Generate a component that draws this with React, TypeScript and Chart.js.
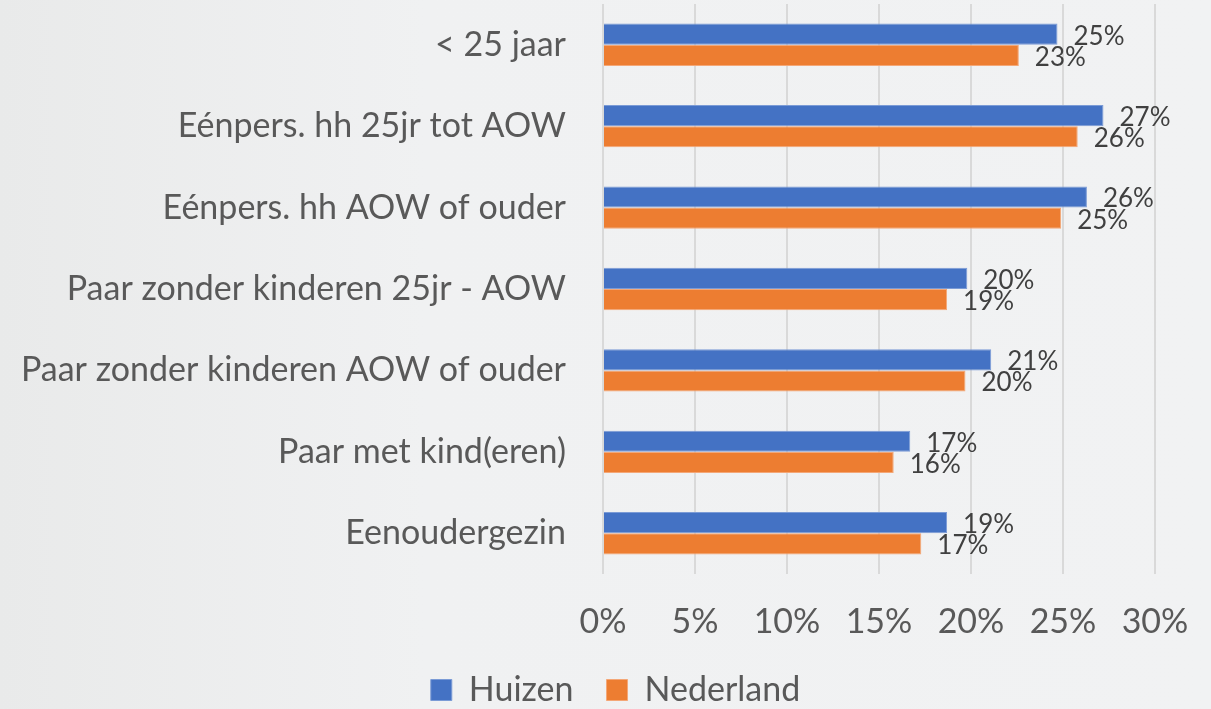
import React, { useEffect, useRef } from "react";
import { Chart, registerables } from "chart.js";

Chart.register(...registerables);

const categories = [
  "< 25 jaar",
  "Eénpers. hh 25jr tot AOW",
  "Eénpers. hh AOW of ouder",
  "Paar zonder kinderen 25jr - AOW",
  "Paar zonder kinderen AOW of ouder",
  "Paar met kind(eren)",
  "Eenoudergezin",
];
const huizen = [24.7, 27.2, 26.3, 19.8, 21.1, 16.7, 18.7];
const nederland = [22.6, 25.8, 24.9, 18.7, 19.7, 15.8, 17.3];
const xTicks = [0, 5, 10, 15, 20, 25, 30];

const FONT = "Lato, 'Open Sans', sans-serif";

const labelPlugin = {
  id: "barLabels",
  afterDatasetsDraw(chart: any) {
    const ctx = chart.ctx;
    ctx.save();
    ctx.font = `26px ${FONT}`;
    ctx.fillStyle = "#404040";
    ctx.textAlign = "left";
    ctx.textBaseline = "middle";
    chart.data.datasets.forEach((ds: any, di: number) => {
      const meta = chart.getDatasetMeta(di);
      meta.data.forEach((el: any, i: number) => {
        const v = ds.data[i];
        ctx.fillText(Math.round(v) + "%", el.x + 16, el.y + 2);
      });
    });
    ctx.restore();
  },
};

export default function App() {
  const ref = useRef<HTMLCanvasElement>(null);
  useEffect(() => {
    document.body.style.margin = "0";
    const chart = new Chart(ref.current!, {
      type: "bar",
      data: {
        labels: categories,
        datasets: [
          {
            label: "Huizen",
            data: huizen,
            backgroundColor: "#4472c4",
            borderColor: "#7b9bd6",
            borderWidth: 1,
            categoryPercentage: 0.52,
            barPercentage: 1,
          },
          {
            label: "Nederland",
            data: nederland,
            backgroundColor: "#ed7d31",
            borderColor: "#f4a777",
            borderWidth: 1,
            categoryPercentage: 0.52,
            barPercentage: 1,
          },
        ],
      },
      options: {
        indexAxis: "y",
        animation: false,
        responsive: false,
        maintainAspectRatio: false,
        layout: { padding: { top: 4, right: 0, left: 20, bottom: -8 } },
        scales: {
          x: {
            min: 0,
            max: 30,
            afterBuildTicks: (s: any) => {
              s.ticks = xTicks.map((v) => ({ value: v }));
            },
            afterFit: (s: any) => {
              s.height = 66;
              s.paddingLeft = 0;
              s.paddingRight = 56;
            },
            grid: { color: "#d9d9d9", lineWidth: 2, drawTicks: false },
            border: { display: false },
            ticks: {
              padding: 28,
              color: "#595959",
              font: { family: FONT, size: 34 },
              callback: (v: any) => v + "%",
            },
          },
          y: {
            afterFit: (s: any) => {
              s.width = 583;
              s.paddingTop = 0;
              s.paddingBottom = 0;
            },
            grid: { display: false, drawTicks: false },
            border: { display: false },
            ticks: {
              padding: 37,
              color: "#595959",
              font: { family: FONT, size: 34 },
            },
          },
        },
        plugins: {
          tooltip: { enabled: false },
          legend: {
            position: "bottom",
            labels: {
              color: "#595959",
              font: { family: FONT, size: 34 },
              boxWidth: 21,
              boxHeight: 21,
              padding: 33,
            },
          },
        },
      },
      plugins: [labelPlugin],
    });
    return () => chart.destroy();
  }, []);
  return (
    <div
      style={{
        position: "fixed",
        left: 0,
        top: 0,
        width: 1211,
        height: 709,
        background: "linear-gradient(90deg, #e9eaea 0%, #f0f1f2 35%, #f1f2f3 100%)",
      }}
    >
      <canvas ref={ref} width={1211} height={709} style={{ display: "block" }} />
    </div>
  );
}
